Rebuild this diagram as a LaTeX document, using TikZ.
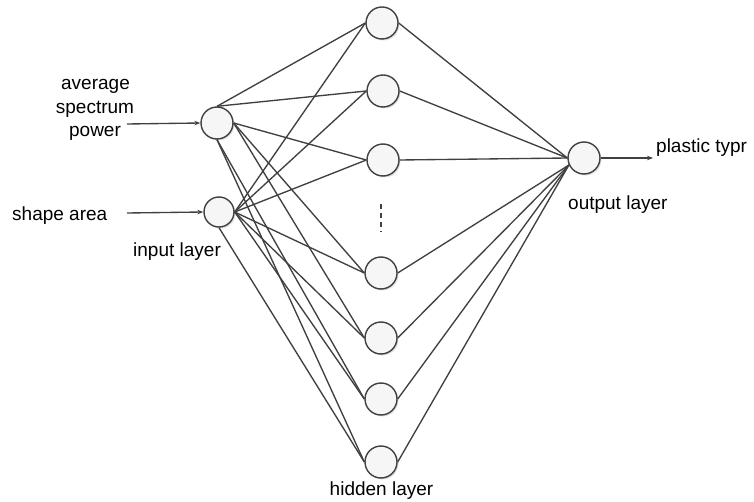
\documentclass[tikz,border=0pt]{standalone}
\usepackage{fontspec}
\setmainfont{Liberation Sans}
\usetikzlibrary{shadows,arrows.meta}
\definecolor{edgecol}{HTML}{404040}
\begin{document}
\begin{tikzpicture}[x=1pt,y=-1pt,
  neuron/.style={circle,draw=edgecol,line width=1.4pt,minimum size=32pt,inner sep=0pt,
    fill=gray!7,drop shadow={shadow xshift=1.5pt,shadow yshift=-1.5pt,fill=gray!40,opacity=0.6}},
  link/.style={draw=edgecol,line width=1.35pt},
  arr/.style={link,-{Stealth[length=6pt,width=4.5pt]}},
  lbl/.style={font=\fontsize{19}{23.5}\selectfont,inner sep=0pt,text=black}]
\useasboundingbox (0,0) rectangle (754,502);

% input layer
\node[neuron] (i1) at (217,123) {};
\node[neuron,minimum size=30pt] (i2) at (219,212) {};
% hidden layer
\node[neuron] (h1) at (382,23) {};
\node[neuron] (h2) at (383,91) {};
\node[neuron] (h3) at (383,160) {};
\node[neuron] (h4) at (381,273) {};
\node[neuron] (h5) at (381,338) {};
\node[neuron] (h6) at (381,399) {};
\node[neuron] (h7) at (381,462) {};
% output layer
\node[neuron] (o) at (584,158) {};

% labels
\node[lbl,anchor=base] (ta) at (95.5,90) {average};
\node[lbl,anchor=base] (tb) at (95,114) {spectrum};
\node[lbl,anchor=base] (tc) at (95,137) {power};
\node[lbl,anchor=base west] (ts) at (12,221) {shape area};
\node[lbl,anchor=base west] (ti) at (133,257) {input layer};
\node[lbl,anchor=base west] (to) at (568,210) {output layer};
\node[lbl,anchor=base west] (tp) at (656,153) {plastic typr};
\node[lbl,anchor=base] (th) at (381.5,495) {hidden layer};

% input arrows
\coordinate (a1) at (127,124);
\coordinate (a2) at (127,213);
\coordinate (a3) at (653,158);
\draw[arr] (a1) -- (i1.west);
\draw[arr] (a2) -- (i2.west);
\draw[arr] (o.east) -- (a3);

% input -> hidden
\foreach \h in {h1,h2} \draw[link] (i1.north) -- (\h.west);
\foreach \h in {h3,h4,h5} \draw[link] (i1.east) -- (\h.west);
\foreach \h in {h6,h7} \draw[link] (i1.south) -- (\h.west);
\foreach \h in {h1,h2,h3,h4,h5,h6} \draw[link] (i2.east) -- (\h.west);
\draw[link] (i2.south) -- (h7.west);

% hidden -> output
\foreach \h in {h1,h2,h3} \draw[link] (\h.east) -- (o.west);
\foreach \h in {h4,h5,h6,h7} \draw[link] (\h.east) -- (o.205);

% ellipsis
\coordinate (d1) at (381,204);
\coordinate (d2) at (381,232);
\draw[link,dash pattern=on 5pt off 4pt] (d1) -- (d2);
\end{tikzpicture}
\end{document}
